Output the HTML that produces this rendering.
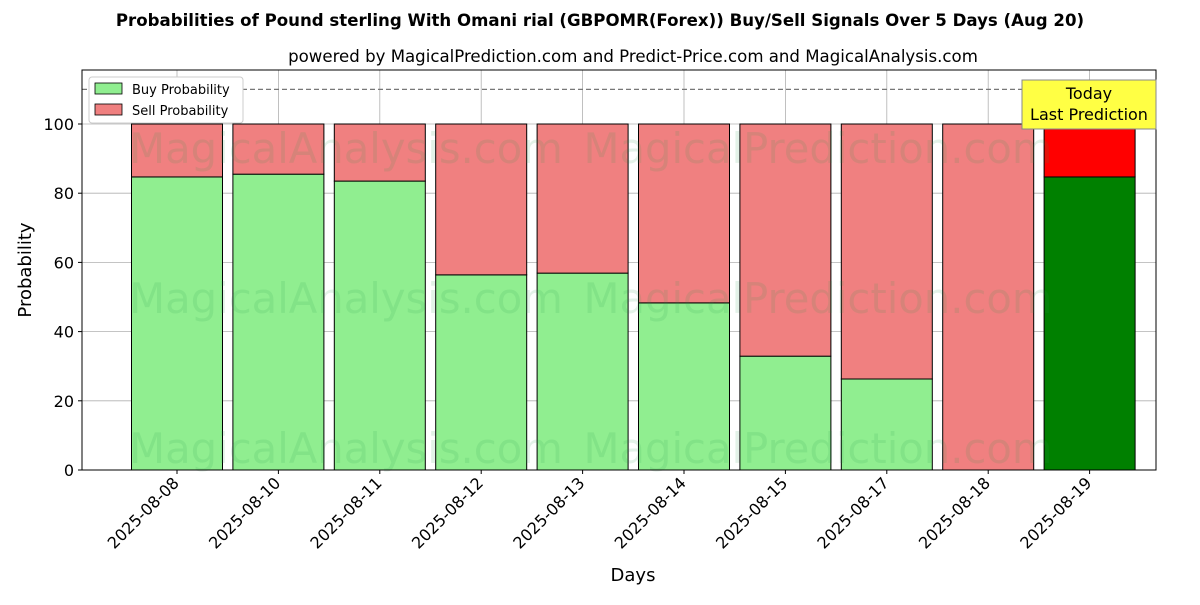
<!DOCTYPE html>
<html><head><meta charset="utf-8"><style>
body{margin:0;background:#fff;font-family:"Liberation Sans","DejaVu Sans",sans-serif}
</style></head><body>
<svg id="chart" width="1200" height="600" xmlns="http://www.w3.org/2000/svg" font-family="DejaVu Sans, Liberation Sans, sans-serif">
<text x="600" y="26" text-anchor="middle" font-size="16.6" font-weight="bold">Probabilities of Pound sterling With Omani rial (GBPOMR(Forex)) Buy/Sell Signals Over 5 Days (Aug 20)</text>
<text x="633" y="62" text-anchor="middle" font-size="16.6">powered by MagicalPrediction.com and Predict-Price.com and MagicalAnalysis.com</text>
<g id="grid"></g>
<g id="bars"></g>
<g id="wm" fill="#2a9d4a" fill-opacity="0.13" font-size="41.7">
<text x="346" y="163" text-anchor="middle">MagicalAnalysis.com</text>
<text x="818" y="163" text-anchor="middle">MagicalPrediction.com</text>
<text x="346" y="313" text-anchor="middle">MagicalAnalysis.com</text>
<text x="818" y="313" text-anchor="middle">MagicalPrediction.com</text>
<text x="346" y="463" text-anchor="middle">MagicalAnalysis.com</text>
<text x="818" y="463" text-anchor="middle">MagicalPrediction.com</text>
</g>
<line x1="82" x2="1156" y1="89.4" y2="89.4" stroke="#777" stroke-dasharray="5,3" stroke-width="1.2"/>
<rect x="82" y="70" width="1074" height="400" fill="none" stroke="#000" stroke-width="1"/>
<g id="axes"></g>
<text x="633" y="581" text-anchor="middle" font-size="18">Days</text>
<text transform="translate(31,270) rotate(-90)" text-anchor="middle" font-size="18">Probability</text>
<g>
<rect x="89" y="77" width="154" height="46" fill="#fff" stroke="#ccc" rx="3"/>
<rect x="95" y="83" width="27" height="11" fill="#90ee90" stroke="#000" stroke-width="0.8"/>
<text x="132" y="94" font-size="13">Buy Probability</text>
<rect x="95" y="104" width="27" height="11" fill="#f08080" stroke="#000" stroke-width="0.8"/>
<text x="132" y="115" font-size="13">Sell Probability</text>
</g>
<g>
<rect x="1022" y="80" width="134" height="49" fill="#ffff44" stroke="#888"/>
<text x="1089" y="99" text-anchor="middle" font-size="16">Today</text>
<text x="1089" y="120" text-anchor="middle" font-size="16">Last Prediction</text>
</g>
</svg>
<script>
const categories=["2025-08-08","2025-08-10","2025-08-11","2025-08-12","2025-08-13","2025-08-14","2025-08-15","2025-08-17","2025-08-18","2025-08-19"];
const buyValues=[84.7,85.5,83.5,56.4,56.9,48.3,32.9,26.3,0,84.7];
const sellValues=[15.3,14.5,16.5,43.6,43.1,51.7,67.1,73.7,100,15.3];
const yTicks=[0,20,40,60,80,100];
const NS="http://www.w3.org/2000/svg";
const x0=82,x1=1156,yb=470,pxPer=3.46;
const y=v=>yb-v*pxPer;
const step=101.4,first=177;
const xc=i=>first+i*step;
const bw=91;
function mk(t,a,p){const e=document.createElementNS(NS,t);for(const k in a)e.setAttribute(k,a[k]);p.appendChild(e);return e;}
const grid=document.getElementById('grid'),bars=document.getElementById('bars'),axes=document.getElementById('axes');
yTicks.forEach(t=>{
 const g=mk('line',{x1:x0,x2:x1,y1:y(t),y2:y(t),stroke:'#b0b0b0','stroke-width':0.8},grid);
 
 
 mk('line',{x1:x0-4,x2:x0,y1:y(t),y2:y(t),stroke:'#000'},axes);
 const tx=mk('text',{x:x0-8,y:y(t)+6,'text-anchor':'end','font-size':16},axes);
 tx.textContent=t;
 
 
});
categories.forEach((c,i)=>{
 const gl=mk('line',{x1:xc(i),x2:xc(i),y1:70,y2:yb,stroke:'#b0b0b0','stroke-width':0.8},grid);
 
 
 const last=i===categories.length-1;
 const b=mk('rect',{x:xc(i)-bw/2,y:y(buyValues[i]),width:bw,height:buyValues[i]*pxPer,fill:last?'#008000':'#90ee90',stroke:'#000','stroke-width':1},bars);
 
 
 const s=mk('rect',{x:xc(i)-bw/2,y:y(buyValues[i]+sellValues[i]),width:bw,height:sellValues[i]*pxPer,fill:last?'#ff0000':'#f08080',stroke:'#000','stroke-width':1},bars);
 
 
 mk('line',{x1:xc(i),x2:xc(i),y1:yb,y2:yb+4,stroke:'#000'},axes);
 const t=mk('text',{x:0,y:0,'text-anchor':'end','font-size':16,transform:`translate(${xc(i)+3},${yb+14}) rotate(-45)`},axes);
 t.textContent=c;
 
 
});
</script>
</body></html>
